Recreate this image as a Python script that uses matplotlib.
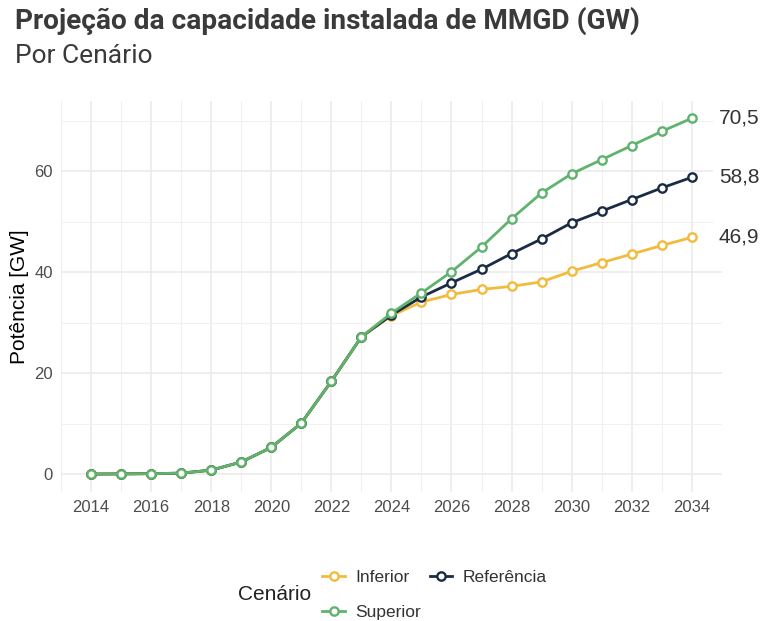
import matplotlib
matplotlib.use("Agg")
import matplotlib.pyplot as plt
from matplotlib.ticker import MultipleLocator
import numpy as np

# dados
anos = list(range(2014, 2035))
historico = [0.02, 0.05, 0.1, 0.2, 0.8, 2.4, 5.3, 10.1, 18.4, 27.2]
inferior = historico + [31.4, 34.1, 35.6, 36.6, 37.2, 38.1, 40.2, 41.9, 43.6, 45.3, 46.9]
referencia = historico + [31.5, 35.1, 37.9, 40.6, 43.7, 46.6, 49.8, 52.1, 54.4, 56.7, 58.8]
superior = historico + [31.9, 35.9, 40.1, 45.0, 50.6, 55.7, 59.5, 62.3, 65.1, 67.9, 70.5]

cenarios = ["Inferior", "Referência", "Superior"]
cores = ["#f3bb3e", "#1c2b45", "#5fb36d"]
series = [inferior, referencia, superior]

fig = plt.figure(figsize=(7.63, 6.21), dpi=100)
ax = fig.add_axes([0.080, 0.208, 0.866, 0.630])

linhas = {}
for nome, cor, vals in zip(cenarios, cores, series):
    l, = ax.plot(anos, vals, color=cor, lw=2.0, marker="o", ms=6,
                 mfc="white", mec=cor, mew=1.7, label=nome, zorder=3)
    linhas[nome] = l
    ax.text(2034.9, vals[-1], f"{vals[-1]:.1f}".replace(".", ","),
            ha="left", va="center", fontsize=15, color="#333333",
            family="Liberation Sans", clip_on=False, zorder=4,
            bbox=dict(facecolor="white", edgecolor="none", pad=4))

ax.set_xlim(2013, 2035)
ax.set_ylim(-3.5, 74)
ax.xaxis.set_major_locator(MultipleLocator(2))
ax.xaxis.set_minor_locator(MultipleLocator(1))
ax.yaxis.set_major_locator(MultipleLocator(20))
ax.yaxis.set_minor_locator(MultipleLocator(10))
ax.grid(which="major", color="#ebebeb", lw=1.2)
ax.grid(which="minor", color="#f0f0f0", lw=0.8)
ax.set_axisbelow(True)
for s in ax.spines.values():
    s.set_visible(False)
ax.tick_params(which="both", length=0, labelsize=12, labelcolor="#4d4d4d", pad=6)
for t in ax.get_xticklabels() + ax.get_yticklabels():
    t.set_family("Liberation Sans")
ax.set_ylabel("Potência [GW]", fontsize=15, family="Liberation Sans", labelpad=4)

fig.text(0.020, 0.966, "Projeção da capacidade instalada de MMGD (GW)",
         fontsize=20.2, weight="bold", color="#3a3a3a", family="Roboto",
         va="center")
fig.text(0.020, 0.910, "Por Cenário", fontsize=19, color="#3a3a3a",
         family="Roboto", va="center")

fig.text(0.312, 0.042, "Cenário", fontsize=15, family="Liberation Sans",
         color="#222222", va="center")
ordem = ["Inferior", "Superior", "Referência"]
leg = fig.legend([linhas[n] for n in ordem], ordem, ncol=2,
                 loc="center left", bbox_to_anchor=(0.402, 0.042),
                 frameon=False, handlelength=1.3,
                 columnspacing=0.5, labelspacing=1.1, handletextpad=0.6,
                 prop={"family": "Liberation Sans", "size": 12.5})
for t in leg.get_texts():
    t.set_color("#333333")

fig.savefig("out.png", dpi=100)
